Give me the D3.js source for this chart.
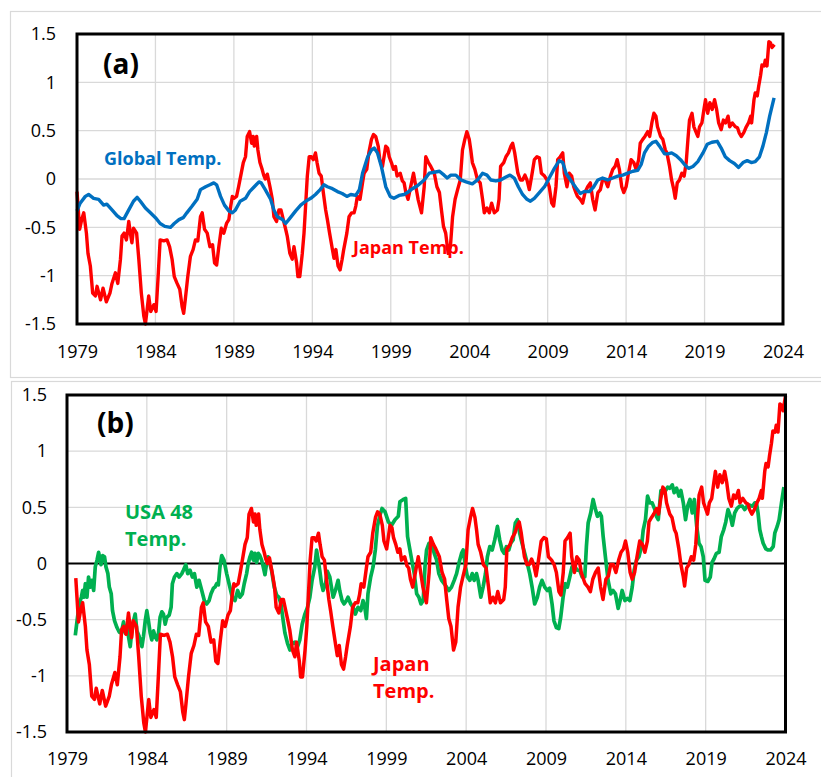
<!DOCTYPE html>
<html>
<head>
<meta charset="UTF-8">
<title>Japan temperature vs Global and USA 48</title>
<script src="https://cdn.jsdelivr.net/npm/d3@7"></script>
<style>
    body { margin: 0; background: #fff; }
    svg text { font-family: "Open Sans", sans-serif; }
</style>
</head>
<body>
<svg id="chart" width="821" height="777"></svg>
<script>
// x axis: years, y axis: temperature anomaly
var yearTicks = [1979, 1984, 1989, 1994, 1999, 2004, 2009, 2014, 2019, 2024];
var tempTicks = [-1.5, -1, -0.5, 0, 0.5, 1, 1.5];
var tempTickLabels = ["-1.5", "-1", "-0.5", "0", "0.5", "1", "1.5"];

// Japan temperature [year, anomaly]
var japanTemp = [
    [1979.0,-0.13],[1979.17,-0.52],[1979.3,-0.42],[1979.43,-0.35],[1979.6,-0.56],[1979.7,-0.77],[1979.85,-0.9],
    [1980.0,-1.18],[1980.17,-1.21],[1980.28,-1.11],[1980.5,-1.25],[1980.66,-1.13],[1980.87,-1.27],[1981.1,-1.18],
    [1981.23,-1.08],[1981.45,-0.97],[1981.6,-1.08],[1981.77,-0.83],[1981.87,-0.59],[1982.0,-0.56],[1982.15,-0.63],
    [1982.3,-0.44],[1982.4,-0.56],[1982.5,-0.66],[1982.6,-0.51],[1982.8,-0.56],[1982.94,-0.83],[1983.1,-1.18],
    [1983.26,-1.42],[1983.36,-1.5],[1983.47,-1.35],[1983.57,-1.21],[1983.7,-1.37],[1983.9,-1.3],[1984.04,-1.37],
    [1984.17,-1.01],[1984.3,-0.63],[1984.53,-0.64],[1984.74,-0.63],[1984.9,-0.7],[1985.06,-0.83],[1985.2,-1.01],
    [1985.38,-1.08],[1985.55,-1.14],[1985.7,-1.32],[1985.8,-1.39],[1985.9,-1.25],[1986.06,-1.01],[1986.23,-0.8],
    [1986.4,-0.73],[1986.55,-0.63],[1986.7,-0.64],[1986.87,-0.39],[1986.98,-0.35],[1987.13,-0.52],[1987.3,-0.56],
    [1987.47,-0.7],[1987.64,-0.68],[1987.77,-0.87],[1987.9,-0.89],[1988.04,-0.7],[1988.2,-0.51],[1988.36,-0.56],
    [1988.53,-0.46],[1988.68,-0.42],[1988.8,-0.28],[1988.9,-0.18],[1989.0,-0.2],[1989.17,-0.18],[1989.3,-0.08],
    [1989.47,0.06],[1989.6,0.17],[1989.74,0.23],[1989.85,0.44],[1990.0,0.49],[1990.13,0.37],[1990.23,0.44],
    [1990.3,0.34],[1990.45,0.44],[1990.53,0.3],[1990.66,0.17],[1990.8,0.1],[1990.9,0.04],[1991.0,0.0],
    [1991.13,0.05],[1991.3,-0.08],[1991.45,-0.21],[1991.55,-0.39],[1991.72,-0.44],[1991.87,-0.32],[1992.0,-0.32],
    [1992.15,-0.42],[1992.3,-0.52],[1992.4,-0.59],[1992.57,-0.77],[1992.72,-0.83],[1992.83,-0.7],[1993.0,-0.87],
    [1993.08,-1.01],[1993.2,-1.01],[1993.36,-0.77],[1993.47,-0.56],[1993.57,-0.28],[1993.68,0.03],[1993.8,0.23],
    [1993.94,0.23],[1994.06,0.2],[1994.2,0.27],[1994.3,0.17],[1994.43,0.06],[1994.57,0.03],[1994.7,-0.14],
    [1994.85,-0.32],[1994.96,-0.42],[1995.1,-0.56],[1995.28,-0.73],[1995.38,-0.82],[1995.5,-0.73],[1995.64,-0.9],
    [1995.77,-0.94],[1995.9,-0.83],[1996.0,-0.73],[1996.2,-0.56],[1996.34,-0.39],[1996.5,-0.35],[1996.66,-0.35],
    [1996.77,-0.28],[1996.87,-0.18],[1997.04,-0.21],[1997.2,-0.04],[1997.3,0.06],[1997.47,0.1],[1997.6,0.27],
    [1997.77,0.41],[1997.9,0.46],[1998.04,0.44],[1998.2,0.34],[1998.3,0.2],[1998.47,0.13],[1998.57,0.23],
    [1998.68,0.34],[1998.8,0.32],[1998.9,0.23],[1999.04,0.17],[1999.17,0.1],[1999.3,0.13],[1999.4,0.03],
    [1999.6,0.06],[1999.74,-0.02],[1999.85,-0.04],[1999.96,-0.14],[2000.1,-0.21],[2000.23,-0.11],[2000.45,0.06],
    [2000.6,-0.08],[2000.74,-0.21],[2000.96,-0.35],[2001.13,-0.08],[2001.23,0.23],[2001.4,0.17],[2001.55,0.13],
    [2001.77,0.06],[2001.94,-0.08],[2002.1,-0.14],[2002.23,-0.32],[2002.36,-0.49],[2002.5,-0.56],[2002.66,-0.77],
    [2002.8,-0.7],[2002.94,-0.39],[2003.1,-0.21],[2003.26,-0.11],[2003.43,-0.01],[2003.57,0.3],[2003.72,0.41],
    [2003.85,0.49],[2004.0,0.41],[2004.1,0.3],[2004.2,0.17],[2004.36,0.1],[2004.53,-0.01],[2004.7,-0.04],
    [2004.85,-0.21],[2004.96,-0.35],[2005.13,-0.3],[2005.28,-0.35],[2005.43,-0.25],[2005.6,-0.35],[2005.8,-0.32],
    [2005.9,-0.21],[2006.0,0.13],[2006.2,0.17],[2006.34,0.23],[2006.5,0.27],[2006.66,0.34],[2006.77,0.37],
    [2006.9,0.27],[2007.1,0.06],[2007.26,-0.01],[2007.4,-0.01],[2007.55,0.04],[2007.68,-0.01],[2007.83,-0.11],
    [2007.98,0.03],[2008.15,0.2],[2008.32,0.23],[2008.47,0.22],[2008.6,0.06],[2008.8,0.03],[2008.96,-0.01],
    [2009.1,-0.08],[2009.26,-0.25],[2009.38,-0.28],[2009.53,-0.08],[2009.64,0.2],[2009.8,0.23],[2009.96,0.27],
    [2010.06,0.06],[2010.23,-0.08],[2010.38,0.06],[2010.53,0.03],[2010.66,-0.08],[2010.8,-0.14],[2010.9,-0.18],
    [2011.08,-0.21],[2011.23,-0.25],[2011.38,-0.14],[2011.55,-0.08],[2011.72,-0.04],[2011.87,-0.21],[2012.02,-0.32],
    [2012.2,-0.14],[2012.36,-0.11],[2012.5,-0.01],[2012.66,-0.01],[2012.83,-0.08],[2013.0,0.03],[2013.15,0.1],
    [2013.3,0.13],[2013.43,0.2],[2013.57,0.1],[2013.72,-0.08],[2013.85,-0.14],[2014.0,-0.08],[2014.15,0.06],
    [2014.32,0.2],[2014.49,0.17],[2014.64,0.1],[2014.8,0.2],[2014.9,0.37],[2015.06,0.41],[2015.2,0.44],
    [2015.38,0.49],[2015.5,0.44],[2015.64,0.58],[2015.77,0.68],[2015.9,0.65],[2016.0,0.54],[2016.2,0.44],
    [2016.34,0.41],[2016.5,0.3],[2016.6,0.27],[2016.77,0.13],[2016.9,-0.01],[2017.04,-0.11],[2017.13,-0.2],
    [2017.26,-0.04],[2017.4,-0.01],[2017.55,0.06],[2017.7,0.03],[2017.83,0.17],[2017.94,0.41],[2018.04,0.61],
    [2018.2,0.68],[2018.32,0.54],[2018.47,0.48],[2018.57,0.44],[2018.68,0.54],[2018.83,0.58],[2018.96,0.72],
    [2019.06,0.82],[2019.2,0.68],[2019.34,0.79],[2019.49,0.72],[2019.64,0.82],[2019.77,0.72],[2019.9,0.58],
    [2020.06,0.51],[2020.2,0.61],[2020.34,0.58],[2020.5,0.65],[2020.6,0.54],[2020.77,0.58],[2020.96,0.54],
    [2021.1,0.53],[2021.2,0.48],[2021.34,0.44],[2021.5,0.48],[2021.66,0.54],[2021.8,0.58],[2021.94,0.65],
    [2022.0,0.58],[2022.15,0.82],[2022.23,0.89],[2022.36,0.86],[2022.45,0.96],[2022.57,1.07],[2022.66,1.18],
    [2022.8,1.17],[2022.87,1.23],[2022.98,1.17],[2023.1,1.42],[2023.2,1.41],[2023.3,1.36],[2023.45,1.39]
];
// panel (b) runs the Japan series about half a year later and ends a bit higher
var japanShiftB = 0.55;
var japanLastB = 1.49;

// Global temperature [year, anomaly]
var globalTemp = [
    [1979.0,-0.33],[1979.2,-0.25],[1979.53,-0.18],[1979.74,-0.16],[1980.06,-0.2],[1980.38,-0.21],[1980.7,-0.27],
    [1980.9,-0.26],[1981.23,-0.32],[1981.55,-0.38],[1981.8,-0.41],[1982.0,-0.41],[1982.3,-0.32],[1982.6,-0.23],
    [1982.83,-0.19],[1983.04,-0.23],[1983.36,-0.3],[1983.68,-0.35],[1984.0,-0.4],[1984.3,-0.46],[1984.6,-0.49],
    [1984.96,-0.5],[1985.2,-0.46],[1985.5,-0.42],[1985.77,-0.4],[1986.0,-0.35],[1986.34,-0.28],[1986.66,-0.21],
    [1986.87,-0.11],[1987.2,-0.08],[1987.47,-0.06],[1987.72,-0.04],[1987.9,-0.06],[1988.15,-0.18],[1988.4,-0.27],
    [1988.68,-0.33],[1988.9,-0.35],[1989.1,-0.32],[1989.4,-0.23],[1989.74,-0.2],[1990.0,-0.13],[1990.3,-0.08],
    [1990.6,-0.03],[1990.74,-0.04],[1991.0,-0.11],[1991.34,-0.21],[1991.55,-0.32],[1991.77,-0.39],[1992.1,-0.42],
    [1992.3,-0.46],[1992.6,-0.4],[1992.94,-0.33],[1993.26,-0.27],[1993.57,-0.23],[1993.9,-0.2],[1994.2,-0.16],
    [1994.5,-0.11],[1994.74,-0.06],[1994.96,-0.08],[1995.28,-0.1],[1995.6,-0.13],[1995.9,-0.15],[1996.2,-0.18],
    [1996.45,-0.16],[1996.77,-0.17],[1997.0,-0.11],[1997.2,0.06],[1997.53,0.23],[1997.77,0.3],[1997.94,0.32],
    [1998.15,0.27],[1998.4,0.13],[1998.68,-0.08],[1998.96,-0.18],[1999.2,-0.2],[1999.53,-0.17],[1999.85,-0.16],
    [2000.06,-0.14],[2000.38,-0.1],[2000.7,-0.07],[2001.13,-0.01],[2001.45,0.06],[2001.77,0.07],[2002.1,0.08],
    [2002.4,0.04],[2002.6,0.01],[2002.83,0.04],[2003.15,0.04],[2003.47,-0.01],[2003.8,-0.03],[2004.2,-0.05],
    [2004.53,-0.01],[2004.85,0.06],[2005.13,0.04],[2005.38,-0.01],[2005.7,-0.02],[2006.0,-0.01],[2006.34,0.02],
    [2006.6,0.04],[2006.87,0.01],[2007.13,-0.08],[2007.4,-0.16],[2007.68,-0.21],[2007.9,-0.23],[2008.15,-0.2],
    [2008.47,-0.14],[2008.8,-0.08],[2009.1,0.01],[2009.43,0.11],[2009.74,0.19],[2009.96,0.17],[2010.17,0.06],
    [2010.5,-0.02],[2010.8,-0.09],[2011.08,-0.15],[2011.34,-0.13],[2011.66,-0.13],[2011.94,-0.08],[2012.2,-0.01],
    [2012.5,0.01],[2012.83,-0.01],[2013.15,0.01],[2013.47,0.03],[2013.79,0.04],[2014.1,0.06],[2014.43,0.08],
    [2014.74,0.09],[2014.96,0.15],[2015.17,0.27],[2015.43,0.34],[2015.7,0.38],[2015.9,0.39],[2016.13,0.34],
    [2016.45,0.26],[2016.66,0.26],[2016.9,0.27],[2017.2,0.24],[2017.47,0.2],[2017.72,0.15],[2017.98,0.11],
    [2018.26,0.13],[2018.57,0.18],[2018.9,0.27],[2019.17,0.36],[2019.47,0.38],[2019.81,0.39],[2020.06,0.32],
    [2020.32,0.23],[2020.6,0.19],[2020.9,0.16],[2021.17,0.12],[2021.45,0.17],[2021.72,0.19],[2021.98,0.17],
    [2022.23,0.18],[2022.5,0.23],[2022.72,0.34],[2022.94,0.48],[2023.15,0.65],[2023.43,0.84]
];

// USA 48 temperature [year on panel (b) axis, anomaly]
var usaTemp = [
    [1979.52,-0.64],[1979.63,-0.51],[1979.77,-0.36],[1979.9,-0.3],[1979.98,-0.24],[1980.06,-0.3],[1980.15,-0.18],
    [1980.25,-0.3],[1980.35,-0.12],[1980.46,-0.21],[1980.56,-0.15],[1980.67,-0.24],[1980.77,-0.03],[1980.88,0.03],
    [1980.98,0.1],[1981.13,-0.01],[1981.23,0.07],[1981.35,0.06],[1981.44,-0.03],[1981.56,-0.09],[1981.65,-0.21],
    [1981.77,-0.27],[1981.85,-0.42],[1981.98,-0.51],[1982.13,-0.57],[1982.27,-0.61],[1982.4,-0.62],[1982.54,-0.52],
    [1982.65,-0.62],[1982.75,-0.55],[1982.85,-0.65],[1982.96,-0.74],[1983.06,-0.6],[1983.17,-0.51],[1983.27,-0.45],
    [1983.38,-0.6],[1983.52,-0.65],[1983.69,-0.74],[1983.79,-0.65],[1983.9,-0.51],[1984.0,-0.42],[1984.1,-0.51],
    [1984.21,-0.62],[1984.31,-0.68],[1984.42,-0.6],[1984.52,-0.65],[1984.63,-0.68],[1984.73,-0.62],[1984.83,-0.48],
    [1984.94,-0.43],[1985.04,-0.45],[1985.15,-0.54],[1985.25,-0.48],[1985.4,-0.46],[1985.52,-0.39],[1985.6,-0.18],
    [1985.73,-0.12],[1985.88,-0.09],[1986.02,-0.12],[1986.19,-0.09],[1986.29,-0.06],[1986.44,-0.01],[1986.56,-0.09],
    [1986.71,-0.06],[1986.85,-0.12],[1986.98,-0.09],[1987.13,-0.21],[1987.27,-0.15],[1987.44,-0.24],[1987.6,-0.33],
    [1987.75,-0.36],[1987.9,-0.33],[1988.02,-0.27],[1988.17,-0.22],[1988.27,-0.21],[1988.38,-0.18],[1988.48,-0.19],
    [1988.58,-0.03],[1988.69,0.07],[1988.83,0.03],[1989.0,-0.09],[1989.15,-0.18],[1989.2,-0.21],[1989.35,-0.3],
    [1989.52,-0.33],[1989.69,-0.24],[1989.83,-0.3],[1989.98,-0.27],[1990.1,-0.18],[1990.25,-0.09],[1990.35,0.0],
    [1990.46,0.06],[1990.56,0.1],[1990.67,0.03],[1990.77,0.09],[1990.88,0.01],[1990.98,0.09],[1991.08,0.07],
    [1991.19,0.03],[1991.29,-0.03],[1991.4,-0.1],[1991.5,0.0],[1991.6,0.06],[1991.71,0.0],[1991.81,-0.06],
    [1991.98,-0.21],[1992.13,-0.28],[1992.27,-0.3],[1992.4,-0.36],[1992.54,-0.51],[1992.65,-0.62],[1992.81,-0.71],
    [1992.96,-0.77],[1993.1,-0.71],[1993.27,-0.7],[1993.44,-0.74],[1993.58,-0.68],[1993.73,-0.54],[1993.9,-0.45],
    [1994.06,-0.39],[1994.21,-0.3],[1994.35,-0.15],[1994.52,-0.03],[1994.63,0.12],[1994.73,0.03],[1994.83,-0.06],
    [1994.94,-0.18],[1995.04,-0.24],[1995.19,-0.18],[1995.31,-0.07],[1995.46,-0.12],[1995.56,-0.21],[1995.67,-0.3],
    [1995.81,-0.24],[1995.98,-0.15],[1996.08,-0.24],[1996.23,-0.33],[1996.35,-0.36],[1996.5,-0.33],[1996.6,-0.3],
    [1996.77,-0.36],[1996.92,-0.39],[1997.06,-0.45],[1997.23,-0.39],[1997.4,-0.42],[1997.54,-0.33],[1997.65,-0.39],
    [1997.75,-0.49],[1997.85,-0.27],[1998.02,-0.12],[1998.17,-0.03],[1998.31,0.12],[1998.44,0.33],[1998.58,0.42],
    [1998.73,0.49],[1998.92,0.46],[1999.13,0.37],[1999.33,0.34],[1999.54,0.39],[1999.75,0.42],[1999.85,0.55],
    [2000.06,0.57],[2000.21,0.58],[2000.33,0.24],[2000.48,0.12],[2000.63,0.0],[2000.75,-0.09],[2000.9,-0.27],
    [2001.04,-0.3],[2001.17,-0.36],[2001.31,-0.33],[2001.42,-0.03],[2001.52,0.12],[2001.67,0.18],[2001.83,0.18],
    [2002.0,0.09],[2002.15,0.03],[2002.29,-0.09],[2002.46,-0.15],[2002.63,-0.18],[2002.77,-0.21],[2002.92,-0.24],
    [2003.08,-0.21],[2003.25,-0.15],[2003.4,-0.09],[2003.54,0.0],[2003.71,0.09],[2003.81,0.12],[2003.96,-0.03],
    [2004.08,-0.12],[2004.23,-0.15],[2004.38,-0.09],[2004.5,-0.15],[2004.65,-0.09],[2004.75,-0.15],[2004.92,-0.3],
    [2005.06,-0.21],[2005.21,-0.09],[2005.33,0.06],[2005.48,0.15],[2005.63,0.12],[2005.79,0.21],[2005.96,0.33],
    [2006.1,0.21],[2006.25,0.12],[2006.38,0.09],[2006.52,0.15],[2006.67,0.12],[2006.79,0.18],[2006.94,0.21],
    [2007.08,0.36],[2007.21,0.39],[2007.35,0.27],[2007.5,0.18],[2007.67,0.09],[2007.83,0.0],[2007.98,-0.09],
    [2008.13,-0.21],[2008.29,-0.36],[2008.46,-0.3],[2008.6,-0.21],[2008.75,-0.15],[2008.92,-0.21],[2009.08,-0.24],
    [2009.23,-0.22],[2009.38,-0.36],[2009.5,-0.51],[2009.65,-0.57],[2009.8,-0.58],[2009.92,-0.48],[2010.07,-0.3],
    [2010.21,-0.18],[2010.34,-0.21],[2010.49,-0.12],[2010.63,-0.03],[2010.8,-0.03],[2010.97,-0.06],[2011.11,-0.06],
    [2011.26,-0.12],[2011.43,-0.12],[2011.53,0.15],[2011.64,0.36],[2011.8,0.45],[2011.95,0.57],[2012.1,0.48],
    [2012.22,0.42],[2012.37,0.45],[2012.47,0.42],[2012.58,0.24],[2012.72,0.06],[2012.89,-0.15],[2013.06,-0.27],
    [2013.2,-0.24],[2013.35,-0.27],[2013.52,-0.4],[2013.64,-0.33],[2013.77,-0.24],[2013.94,-0.33],[2014.1,-0.31],
    [2014.25,-0.33],[2014.4,-0.21],[2014.52,-0.06],[2014.67,0.03],[2014.82,0.06],[2014.98,0.15],[2015.09,0.3],
    [2015.23,0.39],[2015.36,0.6],[2015.5,0.54],[2015.65,0.54],[2015.82,0.48],[2015.92,0.42],[2016.03,0.39],
    [2016.2,0.65],[2016.34,0.63],[2016.49,0.65],[2016.62,0.68],[2016.76,0.67],[2016.91,0.7],[2017.03,0.63],
    [2017.18,0.67],[2017.33,0.6],[2017.45,0.65],[2017.6,0.54],[2017.74,0.39],[2017.87,0.51],[2018.02,0.57],
    [2018.16,0.45],[2018.29,0.57],[2018.44,0.33],[2018.58,0.18],[2018.71,0.15],[2018.85,0.06],[2018.96,-0.15],
    [2019.13,-0.16],[2019.29,-0.12],[2019.4,0.01],[2019.52,0.04],[2019.67,0.09],[2019.84,0.1],[2019.98,0.24],
    [2020.13,0.3],[2020.26,0.37],[2020.4,0.48],[2020.55,0.42],[2020.67,0.34],[2020.82,0.45],[2020.97,0.49],
    [2021.13,0.51],[2021.3,0.51],[2021.45,0.48],[2021.59,0.51],[2021.76,0.52],[2021.93,0.51],[2022.08,0.54],
    [2022.18,0.54],[2022.28,0.45],[2022.39,0.3],[2022.49,0.24],[2022.6,0.18],[2022.77,0.13],[2022.91,0.12],
    [2023.06,0.12],[2023.23,0.15],[2023.33,0.27],[2023.48,0.33],[2023.6,0.39],[2023.75,0.54],[2023.9,0.68]
];

var svg = d3.select("#chart");

var japanB = japanTemp.map(function (d, i) {
    var v = i === japanTemp.length - 1 ? japanLastB : d[1];
    return [d[0] + japanShiftB, v];
});

var panels = [
    {
        box: {x: 10.5, y: 11.5, w: 830, h: 366},
        plot: {left: 77, right: 783, top: 34, bottom: 324},
        zeroColor: "#d9d9d9", zeroWidth: 1.3,
        yLabelRight: 56, xLabelGap: 21,
        tag: {text: "(a)", x: 103, y: 74},
        labelSize: 18,
        series: [
            {data: japanTemp, color: "#ff0000", width: 3.4},
            {data: globalTemp, color: "#0070c0", width: 3.4}
        ],
        notes: [
            {lines: ["Global Temp."], x: 104, y: 165, color: "#0070c0"},
            {lines: ["Japan Temp."], x: 353, y: 254, color: "#ff0000"}
        ]
    },
    {
        box: {x: 11.5, y: 381.5, w: 830, h: 420},
        plot: {left: 67, right: 785.5, top: 395, bottom: 732},
        zeroColor: "#000", zeroWidth: 1.8,
        yLabelRight: 47, xLabelGap: 20,
        tag: {text: "(b)", x: 97, y: 433},
        labelSize: 20,
        series: [
            {data: usaTemp, color: "#00b050", width: 3.7},
            {data: japanB, color: "#ff0000", width: 3.5}
        ],
        notes: [
            {lines: ["USA 48", "Temp."], x: 125, y: 519, color: "#00b050"},
            {lines: ["Japan", "Temp."], x: 373, y: 671, color: "#ff0000"}
        ]
    }
];

panels.forEach(drawPanel);

function drawPanel(p) {
    var g = svg.append("g");

    // light outer border
    g.append("rect")
        .attr("x", p.box.x).attr("y", p.box.y)
        .attr("width", p.box.w).attr("height", p.box.h)
        .attr("fill", "none").attr("stroke", "#d9d9d9").attr("stroke-width", 1.2);

    var x = d3.scaleLinear().domain([1979, 2024]).range([p.plot.left, p.plot.right]);
    var y = d3.scaleLinear().domain([-1.5, 1.5]).range([p.plot.bottom, p.plot.top]);

    // grid
    g.append("g").selectAll("line")
        .data(yearTicks)
        .enter().append("line")
        .attr("x1", function (d) { return x(d); })
        .attr("x2", function (d) { return x(d); })
        .attr("y1", p.plot.top).attr("y2", p.plot.bottom)
        .attr("stroke", "#d9d9d9").attr("stroke-width", 1.3);

    g.append("g").selectAll("line")
        .data(tempTicks.filter(function (d) { return d !== 0; }))
        .enter().append("line")
        .attr("x1", p.plot.left).attr("x2", p.plot.right)
        .attr("y1", function (d) { return y(d); })
        .attr("y2", function (d) { return y(d); })
        .attr("stroke", "#d9d9d9").attr("stroke-width", 1.3);

    g.append("line")
        .attr("x1", p.plot.left).attr("x2", p.plot.right)
        .attr("y1", y(0)).attr("y2", y(0))
        .attr("stroke", p.zeroColor).attr("stroke-width", p.zeroWidth);

    // axes (labels only)
    var yAxis = d3.axisLeft(y)
        .tickValues(tempTicks)
        .tickFormat(function (d, i) { return tempTickLabels[i]; })
        .tickSize(0).tickPadding(p.plot.left - p.yLabelRight);
    var xAxis = d3.axisBottom(x)
        .tickValues(yearTicks)
        .tickFormat(d3.format("d"))
        .tickSize(0).tickPadding(p.xLabelGap);

    var ya = g.append("g").attr("transform", "translate(" + p.plot.left + ",0)").call(yAxis);
    var xa = g.append("g").attr("transform", "translate(0," + p.plot.bottom + ")").call(xAxis);
    [ya, xa].forEach(function (a) {
        a.select(".domain").remove();
        a.attr("font-family", null).attr("font-size", null);
        a.selectAll("text").style("font-size", "18px").attr("fill", "#000");
    });

    // series
    var line = d3.line()
        .x(function (d) { return x(d[0]); })
        .y(function (d) { return y(d[1]); });

    p.series.forEach(function (s) {
        g.append("path")
            .datum(s.data)
            .attr("d", line)
            .attr("fill", "none")
            .attr("stroke", s.color)
            .attr("stroke-width", s.width)
            .attr("stroke-linejoin", "round");
    });

    // frame
    g.append("rect")
        .attr("x", p.plot.left).attr("y", p.plot.top)
        .attr("width", p.plot.right - p.plot.left)
        .attr("height", p.plot.bottom - p.plot.top)
        .attr("fill", "none").attr("stroke", "#000").attr("stroke-width", 3);

    g.append("text")
        .attr("x", p.tag.x).attr("y", p.tag.y)
        .style("font-size", "28px").style("font-weight", "bold")
        .text(p.tag.text);

    p.notes.forEach(function (n) {
        var t = g.append("text")
            .attr("x", n.x).attr("y", n.y)
            .attr("fill", n.color)
            .style("font-size", p.labelSize + "px").style("font-weight", "bold");
        n.lines.forEach(function (l, i) {
            t.append("tspan").attr("x", n.x).attr("dy", i === 0 ? 0 : 27).text(l);
        });
    });
}
</script>
</body>
</html>
